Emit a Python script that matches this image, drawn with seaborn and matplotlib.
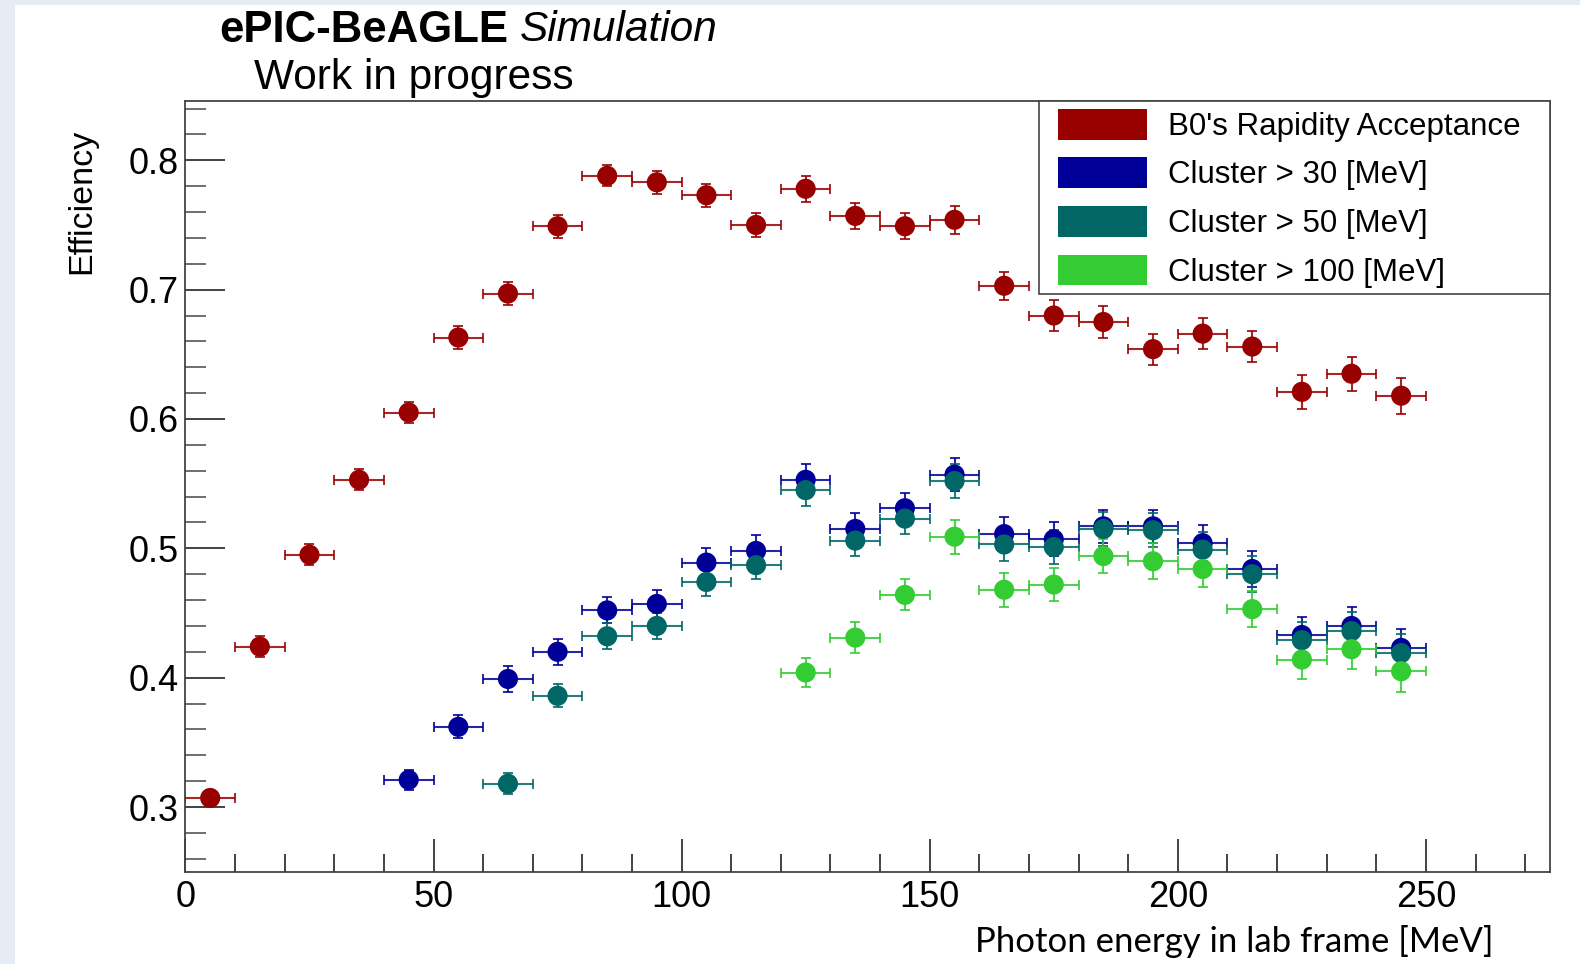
import numpy as np
import pandas as pd
import matplotlib
matplotlib.use("Agg")
import matplotlib.pyplot as plt
from matplotlib.patches import Patch, Rectangle
from matplotlib.ticker import MultipleLocator
import seaborn as sns

# ---------------- data ----------------
bin_centers = [5, 15, 25, 35, 45, 55, 65, 75, 85, 95, 105, 115, 125,
               135, 145, 155, 165, 175, 185, 195, 205, 215, 225, 235, 245]
bin_half_width = 5

red_vals = [0.307, 0.424, 0.495, 0.553, 0.605, 0.663, 0.697, 0.749, 0.788,
            0.783, 0.773, 0.750, 0.778, 0.757, 0.749, 0.754, 0.703, 0.680,
            0.675, 0.654, 0.666, 0.656, 0.621, 0.635, 0.618]
red_err = [0.006, 0.008, 0.008, 0.008, 0.008, 0.009, 0.009, 0.009, 0.008,
           0.009, 0.009, 0.009, 0.010, 0.010, 0.010, 0.011, 0.011, 0.012,
           0.012, 0.012, 0.012, 0.012, 0.013, 0.013, 0.014]

blue_x = bin_centers[4:]
blue_vals = [0.321, 0.362, 0.399, 0.420, 0.452, 0.457, 0.489, 0.498, 0.553,
             0.515, 0.531, 0.557, 0.511, 0.507, 0.517, 0.517, 0.504, 0.484,
             0.433, 0.440, 0.423]
blue_err = [0.008, 0.009, 0.010, 0.010, 0.010, 0.011, 0.011, 0.012, 0.012,
            0.012, 0.012, 0.013, 0.013, 0.013, 0.013, 0.013, 0.014, 0.014,
            0.014, 0.015, 0.015]

teal_x = bin_centers[6:]
teal_vals = [0.318, 0.386, 0.432, 0.440, 0.474, 0.487, 0.545, 0.506, 0.523,
             0.552, 0.503, 0.501, 0.515, 0.514, 0.499, 0.480, 0.429, 0.436,
             0.419]
teal_err = [0.008, 0.009, 0.010, 0.010, 0.011, 0.011, 0.012, 0.012, 0.012,
            0.013, 0.013, 0.013, 0.013, 0.013, 0.014, 0.014, 0.014, 0.015,
            0.015]

green_x = bin_centers[12:]
green_vals = [0.404, 0.431, 0.464, 0.509, 0.468, 0.472, 0.494, 0.490, 0.484,
              0.453, 0.414, 0.422, 0.405]
green_err = [0.011, 0.012, 0.012, 0.013, 0.013, 0.013, 0.013, 0.014, 0.014,
             0.014, 0.015, 0.015, 0.016]

series_names = ["B0's Rapidity Acceptance", "Cluster > 30 [MeV]",
                "Cluster > 50 [MeV]", "Cluster > 100 [MeV]"]
series_colors = ["#990000", "#000099", "#006666", "#33cc33"]

x_ticks = [0, 50, 100, 150, 200, 250]
y_ticks = [0.3, 0.4, 0.5, 0.6, 0.7, 0.8]

# ---------------- style ----------------
sns.set_theme(style="white")
plt.rcParams["font.family"] = ["Liberation Sans", "DejaVu Sans"]

W, H = 1580, 964
S = 1580 / 1568  # display -> full scale
fig = plt.figure(figsize=(W / 100, H / 100), dpi=100)
fig.patch.set_facecolor("white")

# slide-like light border strips
fig.patches.append(Rectangle((0, 0), 15 / W, 1, transform=fig.transFigure,
                             facecolor="#e6ecf3", edgecolor="none", zorder=0))
fig.patches.append(Rectangle((0, 1 - 5 / H), 1, 5 / H, transform=fig.transFigure,
                             facecolor="#e6ecf3", edgecolor="none", zorder=0))

ax_l, ax_r, ax_t, ax_b = 185.4, 1550.0, 100.8, 871.7
ax = fig.add_axes([ax_l / W, 1 - ax_b / H, (ax_r - ax_l) / W, (ax_b - ax_t) / H])

all_x = [bin_centers, blue_x, teal_x, green_x]
all_y = [red_vals, blue_vals, teal_vals, green_vals]
all_e = [red_err, blue_err, teal_err, green_err]

frames = []
for name, xs, ys in zip(series_names, all_x, all_y):
    frames.append(pd.DataFrame({"x": xs, "y": ys, "series": name}))
df = pd.concat(frames, ignore_index=True)

for name, xs, ys, es, col in zip(series_names, all_x, all_y, all_e, series_colors):
    ax.errorbar(xs, ys, yerr=es, xerr=bin_half_width, fmt="none",
                ecolor=col, elinewidth=1.5, capsize=3.5, capthick=1.4,
                alpha=0.85, zorder=2)

sns.scatterplot(data=df, x="x", y="y", hue="series", hue_order=series_names,
                palette=series_colors, s=210, marker="o", edgecolor="none",
                legend=False, ax=ax, zorder=3)

ax.set_xlim(0, 275)
ax.set_ylim(0.25, 0.846)
ax.set_xticks(x_ticks)
ax.set_yticks(y_ticks)
ax.set_xticklabels([str(v) for v in x_ticks])
ax.set_yticklabels([f"{v:.1f}" for v in y_ticks])
ax.xaxis.set_minor_locator(MultipleLocator(10))
ax.yaxis.set_minor_locator(MultipleLocator(0.02))
ax.tick_params(axis="x", which="major", direction="in", length=24, width=1.2,
               color="#222222", labelsize=26, pad=6, bottom=True, top=False,
               labelcolor="black")
ax.tick_params(axis="x", which="minor", direction="in", length=13, width=1.2,
               color="#222222", bottom=True, top=False)
ax.tick_params(axis="y", which="major", direction="in", length=29, width=1.2,
               color="#222222", labelsize=26, pad=5, left=True, right=False,
               labelcolor="black")
ax.tick_params(axis="y", which="minor", direction="in", length=15, width=1.2,
               color="#555555", left=True, right=False)
ax.set_xlabel("")
ax.set_ylabel("")
for sp in ax.spines.values():
    sp.set_color("#444444")
    sp.set_linewidth(1.3)
ax.grid(False)

# legend: contents placed inside a hand-made frame with ROOT-like padding
pad_left, pad_right, pad_top, pad_bottom = 19, 29, 8, 6
ax_w_px, ax_h_px = ax_r - ax_l, ax_b - ax_t
handles = [Patch(facecolor=c, edgecolor="none") for c in series_colors]
leg = ax.legend(handles, series_names, loc="upper right", frameon=False,
                bbox_to_anchor=(1 - pad_right / ax_w_px, 1 - pad_top / ax_h_px),
                fontsize=22.5, handlelength=2.85, handleheight=1.14,
                borderaxespad=0, borderpad=0,
                labelspacing=0.5, handletextpad=0.67, labelcolor="black")
fig.canvas.draw()
lb = leg.get_window_extent()
frame_x0 = lb.x0 - pad_left
frame_y0 = lb.y0 - pad_bottom
frame = Rectangle((frame_x0 / W, frame_y0 / H),
                  (ax_r - frame_x0) / W,
                  (H - ax_t - frame_y0) / H,
                  transform=fig.transFigure, facecolor="white",
                  edgecolor="#444444", linewidth=1.2, zorder=4)
fig.patches.append(frame)
leg.remove()
fig.add_artist(leg)
leg.set_zorder(5)

# titles
t1 = fig.text(218 * S / W, 1 - 30 * S / H, "ePIC-BeAGLE", fontsize=31.5,
              fontweight="bold", ha="left", va="center", color="black")
fig.canvas.draw()
bb = t1.get_window_extent()
fig.text((bb.x1 + 11) / W, 1 - 30 * S / H, "Simulation", fontsize=30.5,
         fontstyle="italic", ha="left", va="center", color="black")
fig.text(252 * S / W, 1 - 77 * S / H, "Work in progress", fontsize=30.5,
         ha="left", va="center", color="black")

fig.text(81 * S / W, 1 - 200 * S / H, "Efficiency", fontsize=24.5,
         rotation=90, ha="center", va="center", color="black")

fig.text(1482 * S / W, 1 - 934 * S / H,
         "Photon energy in lab frame [MeV]", fontsize=25,
         family=["Lato", "DejaVu Sans"], ha="right", va="center", color="black")

fig.savefig("out.png", dpi=100)
